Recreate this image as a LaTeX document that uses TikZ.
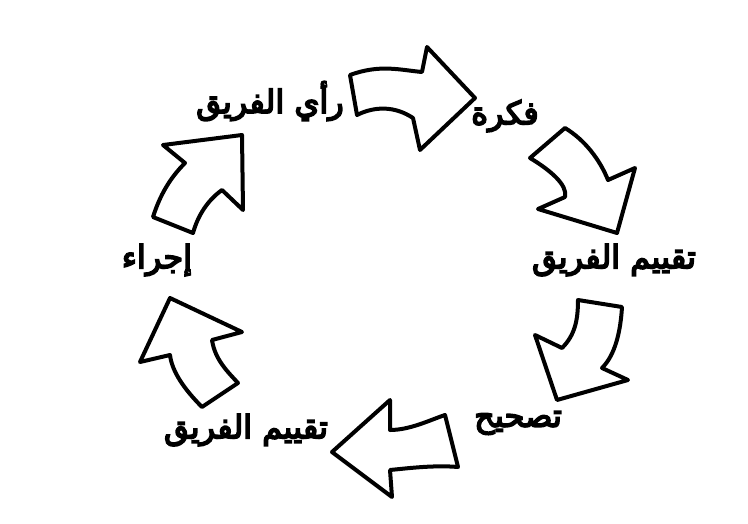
\documentclass[tikz,border=0pt]{standalone}
\usepackage{fontspec}
\newfontfamily\arabicfont[Script=Arabic,BoldFont={DejaVu Sans},BoldFeatures={FakeBold=5}]{DejaVu Sans}
\TeXXeTstate=1
\begin{document}
\begin{tikzpicture}[x=1pt,y=-1pt,
  arr/.style={draw=black,line width=4pt,line join=round,fill=white},
  lbl/.style={font=\arabicfont\bfseries\fontsize{32}{36}\selectfont,inner sep=0pt}]
\useasboundingbox[fill=white] (0,0) rectangle (748,523);
% top arrow
\draw[arr] (350,75) .. controls (380,64) and (400,70) .. (422,72) -- (427,47) -- (475,98) -- (420,150) -- (413,118) .. controls (395,106) and (375,106) .. (357,115) -- cycle;
% right top arrow
\draw[arr] (565,128) -- (530,158) .. controls (550,170) and (568,185) .. (565,197) -- (538,209) -- (617,233) -- (635,168) -- (608,180) .. controls (600,160) and (585,140) .. cycle;
% right bottom arrow
\draw[arr] (578,300) -- (622,307) .. controls (620,340) and (612,358) .. (602,368) -- (628,380) -- (557,400) -- (535,335) -- (562,348) .. controls (575,335) and (578,320) .. cycle;
% bottom arrow
\draw[arr] (332,452) -- (390,400) -- (390,430) .. controls (410,430) and (430,420) .. (445,415) -- (458,467) .. controls (435,465) and (410,468) .. (390,470) -- (392,497) -- cycle;
% left bottom arrow
\draw[arr] (170,298) -- (242,332) -- (212,340) .. controls (215,360) and (228,372) .. (238,383) -- (202,407) .. controls (185,390) and (172,372) .. (170,355) -- (140,362) -- cycle;
% left top arrow
\draw[arr] (163,145) -- (242,135) -- (243,210) -- (222,190) .. controls (208,200) and (198,215) .. (193,233) -- (153,217) .. controls (160,195) and (170,178) .. (185,163) -- cycle;
% labels
\node[lbl] (ray) at (270,101) {\beginR رأي الفريق\endR};
\node[lbl] (fikra) at (505,116) {\beginR فكرة\endR};
\node[lbl] (taqr) at (614,260) {\beginR تقييم الفريق\endR};
\node[lbl] (tash) at (518,423) {\beginR تصحيح\endR};
\node[lbl] (taqb) at (246,430) {\beginR تقييم الفريق\endR};
\node[lbl] (ijra) at (157,260) {\beginR إجراء\endR};
\end{tikzpicture}
\end{document}
